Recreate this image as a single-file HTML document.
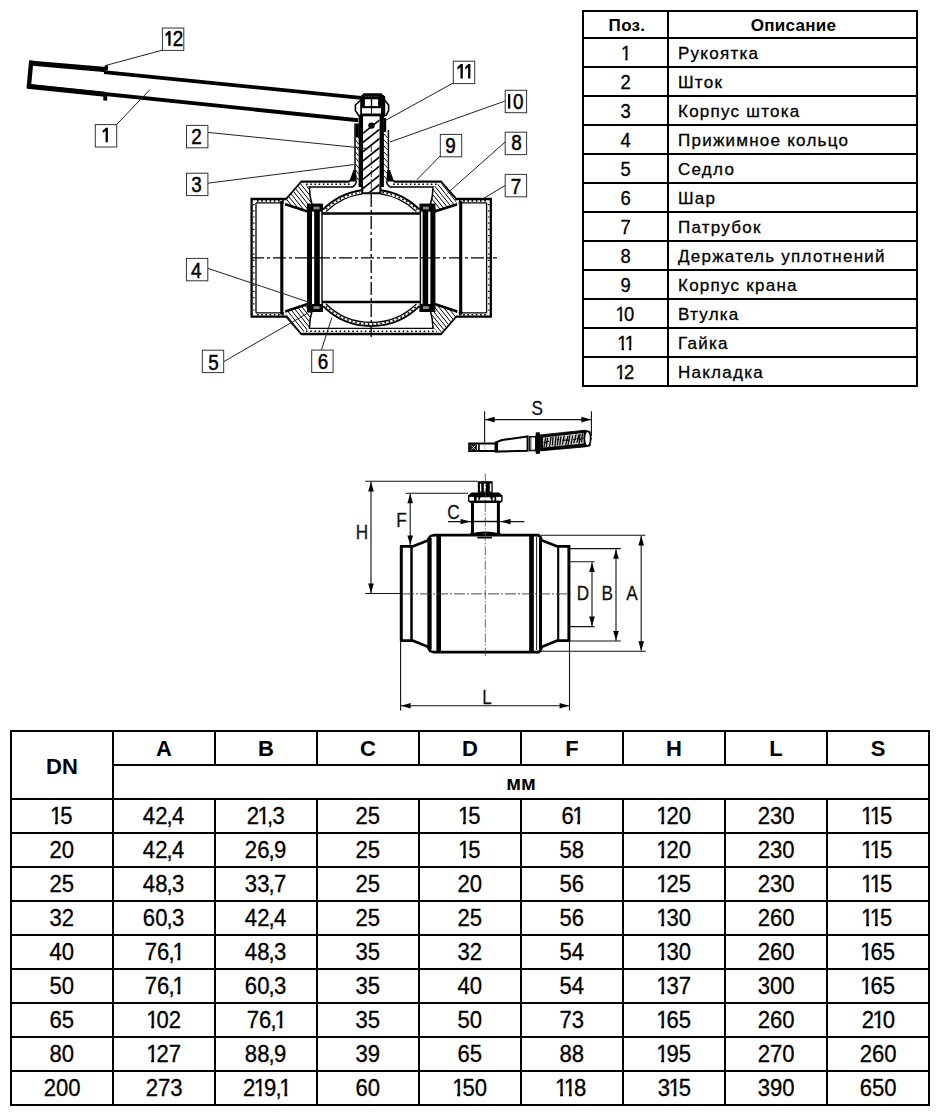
<!DOCTYPE html>
<html lang="ru"><head><meta charset="utf-8"><title>Ball valve</title>
<style>
html,body{margin:0;padding:0;background:#fff;}
body{width:940px;height:1119px;position:relative;overflow:hidden;font-family:"Liberation Sans",sans-serif;color:#000;}
svg.draw{position:absolute;left:0;top:0;}
table{border-collapse:separate;border-spacing:0;position:absolute;table-layout:fixed;}
td,th{padding:0;margin:0;box-sizing:border-box;border-right:2px solid #000;border-bottom:2px solid #000;overflow:hidden;white-space:nowrap;}
.t1{left:582px;top:10px;width:336px;border-left:2px solid #000;border-top:2px solid #000;}
.t1 th{height:27px;font-weight:bold;font-size:17px;text-align:center;letter-spacing:0.3px;padding-top:3px;}
.t1 td{height:29px;font-size:17px;letter-spacing:1.25px;padding-top:2px;-webkit-text-stroke:0.3px #000;}
.t1 .c1{width:85px;text-align:center;}
.t1 th.c1{padding-left:3px;}
.t1 th.c2{padding-left:2px;}
.t1 td.c1{font-size:20px;letter-spacing:0;padding-top:1px;}
.t1 td.c1.two{letter-spacing:-0.6px;}
.t1 td.c1 span{display:inline-block;transform:scaleX(.92);}
.t1 td.c2{padding-left:9px;}
.t2{left:10px;top:730px;width:920px;border-left:2px solid #000;border-top:2px solid #000;}
.t2 th{height:34px;font-weight:bold;font-size:22px;text-align:center;padding-top:2px;}
.t2 th.dn{padding-top:3px;}
.t2 td{height:34px;font-size:23px;text-align:center;-webkit-text-stroke:0.3px #000;}
.t2 td span{display:inline-block;transform:scaleX(.96);}
.t2 .dn{width:102px;}
.t2 .mm{font-size:20px;}
i.o{font-style:normal;display:inline-block;line-height:1;height:1em;width:0.556em;margin:0 -0.09em 0 -0.07em;letter-spacing:0;clip-path:polygon(0 0,100% 0,100% 0.745em,0.36em 0.745em,0.36em 100%,0.23em 100%,0.23em 0.745em,0 0.745em);}
i.k{font-style:normal;margin:0 -0.03em 0 -0.04em;}
</style></head>
<body>
<svg class="draw" width="940" height="1119" viewBox="0 0 940 1119">
<g id="d1" fill="none" stroke="#000" stroke-linejoin="miter">
<path d="M29.5,63 L106.5,69.7" stroke-width="5.2"/>
<path d="M104,72.1 L361,97.9" stroke-width="3.6"/>
<path d="M27.5,86 L358,120.2" stroke-width="3.9"/>
<path d="M27.5,86.3 L105,94.3" stroke-width="5"/>
<path d="M31.3,60.6 L28.7,88.4" stroke-width="4.4"/>
<rect x="103.3" y="95" width="3.9" height="5.6" fill="#000" stroke="none"/>
<rect x="104.8" y="65.2" width="3.2" height="5" fill="#000" stroke="none"/>
<path d="M360.4,100.5 L355.4,105 L355.4,110.6 L358.6,115.5 L386,115.5 L388.6,110.6 L388.6,105 L385,100.5 Z" fill="#fff" stroke-width="1.6"/>
<path d="M363.6,93.3 L381.2,93.3 L385.2,96.6 L385.2,116.5 L360.2,116.5 L360.2,96.6 Z" fill="#000" stroke="none"/>
<rect x="364.9" y="99.3" width="5.9" height="6.8" fill="#fff" stroke="none"/>
<rect x="372.2" y="99.3" width="5.9" height="6.8" fill="#fff" stroke="none"/>
<rect x="362" y="108.2" width="19" height="5.3" fill="#fff" stroke="none"/>
<path d="M371.5,106 V113.5" stroke-width="0.9"/>
<path d="M365,96.3 H378" stroke="#777" stroke-width="0.8" stroke-dasharray="1.5 1.5"/>
<path d="M355,123.5 V170 Q354.6,178.5 349,181.3" stroke-width="1.5"/>
<path d="M388.4,130 V170 Q388.8,178.5 394.4,181.3" stroke-width="1.5"/>
<path d="M353.4,170 L349.3,181.6 L356.8,181.6 L356,170 Z" fill="#000" stroke="none"/>
<path d="M390,170 L394,181.6 L386.4,181.6 L387.2,170 Z" fill="#000" stroke="none"/>
<path d="M355.6,128 L358.6,132" stroke-width="0.9"/>
<path d="M355.6,134 L358.6,138" stroke-width="0.9"/>
<path d="M355.6,140 L358.6,144" stroke-width="0.9"/>
<path d="M355.6,146 L358.6,150" stroke-width="0.9"/>
<path d="M355.6,152 L358.6,156" stroke-width="0.9"/>
<path d="M355.6,158 L358.6,162" stroke-width="0.9"/>
<path d="M355.6,164 L358.6,168" stroke-width="0.9"/>
<path d="M355.6,170 L358.6,174" stroke-width="0.9"/>
<path d="M355.6,176 L358.6,180" stroke-width="0.9"/>
<path d="M384,134 L387.6,138" stroke-width="0.9"/>
<path d="M384,140 L387.6,144" stroke-width="0.9"/>
<path d="M384,146 L387.6,150" stroke-width="0.9"/>
<path d="M384,152 L387.6,156" stroke-width="0.9"/>
<path d="M384,158 L387.6,162" stroke-width="0.9"/>
<path d="M384,164 L387.6,168" stroke-width="0.9"/>
<path d="M384,170 L387.6,174" stroke-width="0.9"/>
<path d="M384,176 L387.6,180" stroke-width="0.9"/>
<rect x="358.6" y="115" width="4.6" height="72" fill="#000" stroke="none"/>
<rect x="379.3" y="115" width="4.6" height="72" fill="#000" stroke="none"/>
<rect x="355.6" y="123.5" width="3.2" height="14" fill="#000" stroke="none"/>
<rect x="383.8" y="118" width="2.4" height="14" fill="#000" stroke="none"/>
<rect x="363.1" y="116.5" width="16.3" height="76" fill="#fff" stroke="none"/>
<clipPath id="stemclip"><rect x="363.1" y="117" width="16.3" height="75.5"/></clipPath>
<g clip-path="url(#stemclip)" stroke-width="1.7">
<path d="M362,134.0 L381,119.0"/>
<path d="M362,143.2 L381,128.2"/>
<path d="M362,152.4 L381,137.4"/>
<path d="M362,161.6 L381,146.6"/>
<path d="M362,170.8 L381,155.8"/>
<path d="M362,180.0 L381,165.0"/>
<path d="M362,189.2 L381,174.2"/>
<path d="M362,198.4 L381,183.4"/>
<path d="M362,207.6 L381,192.6"/>
<path d="M362,216.8 L381,201.8"/>
<path d="M362,226.0 L381,211.0"/>
<path d="M362,235.2 L381,220.2"/>
</g>
<path d="M371.3,145 V192" stroke-width="0.8" stroke-dasharray="7 2 1.5 2"/>
<path d="M362.2,186 V193.2 H380.4 V186" stroke-width="2"/>
<circle cx="371.5" cy="125.6" r="3.2" fill="#000" stroke="none"/>
<path d="M349.5,181.6 H301.6 L286.4,199 H251.6 V316.6 H286.4 L301.6,334 H440.8 L456,316.6 H490.8 V199 H456 L440.8,181.6 H393.8" stroke-width="2.3"/>
<path d="M256,202.8 V312.8 M256,202.8 H284 M256,312.8 H284" stroke-width="1.3"/>
<path d="M486.6,202.8 V312.8 M486.6,202.8 H458.5 M486.6,312.8 H458.5" stroke-width="1.3"/>
<path d="M308,187 H352 Q355.5,186 356.5,181" stroke-width="1.4"/>
<path d="M434.4,187 H390.6 Q387.4,186 386.4,181" stroke-width="1.4"/>
<path d="M308,328.4 H434.4" stroke-width="1.4"/>
<path d="M257,200.9 H284" stroke="#000" stroke-width="1.6" stroke-dasharray="1.6 2.6"/>
<path d="M257,314.7 H284" stroke="#000" stroke-width="1.6" stroke-dasharray="1.6 2.6"/>
<path d="M459,200.9 H486" stroke="#000" stroke-width="1.6" stroke-dasharray="1.6 2.6"/>
<path d="M459,314.7 H486" stroke="#000" stroke-width="1.6" stroke-dasharray="1.6 2.6"/>
<path d="M306,184.3 H350" stroke="#000" stroke-width="1.6" stroke-dasharray="1.6 2.6"/>
<path d="M393,184.3 H437" stroke="#000" stroke-width="1.6" stroke-dasharray="1.6 2.6"/>
<path d="M306,331.2 H437" stroke="#000" stroke-width="1.6" stroke-dasharray="1.6 2.6"/>
<path d="M253.8,204 V312" stroke="#000" stroke-width="1.4" stroke-dasharray="1.2 5"/>
<path d="M488.7,204 V312" stroke="#000" stroke-width="1.4" stroke-dasharray="1.2 5"/>
<path d="M281.8,201 V314.6" stroke-width="3.1"/>
<path d="M460.7,201 V314.6" stroke-width="3.1"/>
<clipPath id="wc0"><path d="M301.6,182.6 L309.4,187.2 L309.9,196.0 L311.6,204.3 L307.8,211.6 L285.2,204.2 L287.0,199.4 Z"/></clipPath>
<path d="M301.6,182.6 L309.4,187.2 L309.9,196.0 L311.6,204.3 L307.8,211.6 L285.2,204.2 L287.0,199.4 Z" fill="#fff" stroke="none"/>
<g clip-path="url(#wc0)" stroke-width="1">
<path d="M260.0,182.6 L283.2,211.6"/>
<path d="M264.4,182.6 L287.6,211.6"/>
<path d="M268.8,182.6 L292.0,211.6"/>
<path d="M273.2,182.6 L296.4,211.6"/>
<path d="M277.6,182.6 L300.8,211.6"/>
<path d="M282.0,182.6 L305.2,211.6"/>
<path d="M286.4,182.6 L309.6,211.6"/>
<path d="M290.8,182.6 L314.0,211.6"/>
<path d="M295.2,182.6 L318.4,211.6"/>
<path d="M299.6,182.6 L322.8,211.6"/>
<path d="M304.0,182.6 L327.2,211.6"/>
<path d="M308.4,182.6 L331.6,211.6"/>
<path d="M312.8,182.6 L336.0,211.6"/>
</g>
<path d="M285.2,204.2 L307.8,211.6" stroke-width="2.6"/>
<path d="M309.4,187.2 Q309.6,197.0 312.0,204.3" stroke-width="1.5"/>
<rect x="307.0" y="203.6" width="16" height="8" fill="#000" stroke="none"/>
<rect x="313.5" y="206.6" width="6" height="2.8" fill="#8a8a8a" stroke="none"/>
<clipPath id="wc1"><path d="M440.8,182.6 L433.0,187.2 L432.5,196.0 L430.8,204.3 L434.6,211.6 L457.2,204.2 L455.4,199.4 Z"/></clipPath>
<path d="M440.8,182.6 L433.0,187.2 L432.5,196.0 L430.8,204.3 L434.6,211.6 L457.2,204.2 L455.4,199.4 Z" fill="#fff" stroke="none"/>
<g clip-path="url(#wc1)" stroke-width="1">
<path d="M405.6,182.6 L428.8,211.6"/>
<path d="M410.0,182.6 L433.2,211.6"/>
<path d="M414.4,182.6 L437.6,211.6"/>
<path d="M418.8,182.6 L442.0,211.6"/>
<path d="M423.2,182.6 L446.4,211.6"/>
<path d="M427.6,182.6 L450.8,211.6"/>
<path d="M432.0,182.6 L455.2,211.6"/>
<path d="M436.4,182.6 L459.6,211.6"/>
<path d="M440.8,182.6 L464.0,211.6"/>
<path d="M445.2,182.6 L468.4,211.6"/>
<path d="M449.6,182.6 L472.8,211.6"/>
<path d="M454.0,182.6 L477.2,211.6"/>
<path d="M458.4,182.6 L481.6,211.6"/>
</g>
<path d="M457.2,204.2 L434.6,211.6" stroke-width="2.6"/>
<path d="M433.0,187.2 Q432.8,197.0 430.4,204.3" stroke-width="1.5"/>
<rect x="419.4" y="203.6" width="16" height="8" fill="#000" stroke="none"/>
<rect x="422.9" y="206.6" width="6" height="2.8" fill="#8a8a8a" stroke="none"/>
<clipPath id="wc2"><path d="M301.6,333.0 L309.4,328.4 L309.9,319.6 L311.6,311.3 L307.8,304.0 L285.2,311.4 L287.0,316.2 Z"/></clipPath>
<path d="M301.6,333.0 L309.4,328.4 L309.9,319.6 L311.6,311.3 L307.8,304.0 L285.2,311.4 L287.0,316.2 Z" fill="#fff" stroke="none"/>
<g clip-path="url(#wc2)" stroke-width="1">
<path d="M260.0,304.0 L283.2,333.0"/>
<path d="M264.4,304.0 L287.6,333.0"/>
<path d="M268.8,304.0 L292.0,333.0"/>
<path d="M273.2,304.0 L296.4,333.0"/>
<path d="M277.6,304.0 L300.8,333.0"/>
<path d="M282.0,304.0 L305.2,333.0"/>
<path d="M286.4,304.0 L309.6,333.0"/>
<path d="M290.8,304.0 L314.0,333.0"/>
<path d="M295.2,304.0 L318.4,333.0"/>
<path d="M299.6,304.0 L322.8,333.0"/>
<path d="M304.0,304.0 L327.2,333.0"/>
<path d="M308.4,304.0 L331.6,333.0"/>
<path d="M312.8,304.0 L336.0,333.0"/>
</g>
<path d="M285.2,311.4 L307.8,304.0" stroke-width="2.6"/>
<path d="M309.4,328.4 Q309.6,318.6 312.0,311.3" stroke-width="1.5"/>
<rect x="307.0" y="304.0" width="16" height="8" fill="#000" stroke="none"/>
<rect x="313.5" y="306.2" width="6" height="2.8" fill="#8a8a8a" stroke="none"/>
<clipPath id="wc3"><path d="M440.8,333.0 L433.0,328.4 L432.5,319.6 L430.8,311.3 L434.6,304.0 L457.2,311.4 L455.4,316.2 Z"/></clipPath>
<path d="M440.8,333.0 L433.0,328.4 L432.5,319.6 L430.8,311.3 L434.6,304.0 L457.2,311.4 L455.4,316.2 Z" fill="#fff" stroke="none"/>
<g clip-path="url(#wc3)" stroke-width="1">
<path d="M405.6,304.0 L428.8,333.0"/>
<path d="M410.0,304.0 L433.2,333.0"/>
<path d="M414.4,304.0 L437.6,333.0"/>
<path d="M418.8,304.0 L442.0,333.0"/>
<path d="M423.2,304.0 L446.4,333.0"/>
<path d="M427.6,304.0 L450.8,333.0"/>
<path d="M432.0,304.0 L455.2,333.0"/>
<path d="M436.4,304.0 L459.6,333.0"/>
<path d="M440.8,304.0 L464.0,333.0"/>
<path d="M445.2,304.0 L468.4,333.0"/>
<path d="M449.6,304.0 L472.8,333.0"/>
<path d="M454.0,304.0 L477.2,333.0"/>
<path d="M458.4,304.0 L481.6,333.0"/>
</g>
<path d="M457.2,311.4 L434.6,304.0" stroke-width="2.6"/>
<path d="M433.0,328.4 Q432.8,318.6 430.4,311.3" stroke-width="1.5"/>
<rect x="419.4" y="304.0" width="16" height="8" fill="#000" stroke="none"/>
<rect x="422.9" y="306.2" width="6" height="2.8" fill="#8a8a8a" stroke="none"/>
<rect x="307.0" y="211" width="5" height="93.6" fill="#000" stroke="none"/>
<rect x="314.2" y="211" width="5.6" height="93.6" fill="#000" stroke="none"/>
<path d="M322.0,211 V304.6" stroke-width="1.4"/>
<rect x="430.4" y="211" width="5" height="93.6" fill="#000" stroke="none"/>
<rect x="422.6" y="211" width="5.6" height="93.6" fill="#000" stroke="none"/>
<path d="M420.4,211 V304.6" stroke-width="1.4"/>
<path d="M322,213.5 H420.4 M322,302 H420.4" stroke-width="2.7"/>
<path d="M323.0,209.4 A68.3,68.3 0 0 1 361.5,190.2" stroke-width="1.9" />
<path d="M381.0,190.2 A68.3,68.3 0 0 1 419.4,209.4" stroke-width="1.9" />
<path d="M326.0,211.6 A64.6,64.6 0 0 1 362.0,193.9" stroke-width="1.3" />
<path d="M380.4,193.9 A64.6,64.6 0 0 1 416.4,211.6" stroke-width="1.3" />
<path d="M326.0,209.2 A66.4,66.4 0 0 1 360.0,192.4" stroke-width="1.6" stroke-dasharray="1.6 2.6"/>
<path d="M382.4,192.4 A66.4,66.4 0 0 1 417.0,209.7" stroke-width="1.6" stroke-dasharray="1.6 2.6"/>
<path d="M323.0,306.2 A68.3,68.3 0 0 0 419.4,306.2" stroke-width="1.9" />
<path d="M326.0,304.0 A64.6,64.6 0 0 0 416.4,304.0" stroke-width="1.3" />
<path d="M326.0,306.4 A66.4,66.4 0 0 0 417.0,305.9" stroke-width="1.6" stroke-dasharray="1.6 2.6"/>
<path d="M251,257.8 H497" stroke-width="1.3" stroke-dasharray="13 3 3 3"/>
<path d="M371.2,194 V337" stroke-width="1.3" stroke-dasharray="13 3 3 3"/>
</g>
<g id="lbl" fill="none" stroke="#222" stroke-width="1">
<path d="M163,50 L106,65.4"/>
<path d="M116.4,124.8 L150,89.5"/>
<path d="M207.9,132.4 L368,148.6"/>
<path d="M207.9,183.2 L353.5,164.6"/>
<path d="M453.2,83 L385.2,120.6"/>
<path d="M505.6,100.8 L390,142"/>
<path d="M440.6,155.6 L417,179.6"/>
<path d="M505.6,141.6 L447.4,193.2"/>
<path d="M505.6,185.2 L483.2,198.6"/>
<path d="M207.7,268.3 L308.8,302.2"/>
<path d="M223.8,361.6 L311.8,310.8"/>
<path d="M321.4,350.1 L331.8,317.6"/>
</g>
<g id="boxes" font-family="Liberation Sans, sans-serif" font-size="21.4" fill="#000" stroke="#000" stroke-width="0.5" text-anchor="middle">
<rect x="162.4" y="28.0" width="21.4" height="22.4" fill="#fff" stroke="#333" stroke-width="1"/>
<path d="M170.60,31.10 V45.70 H168.30 V34.50 L165.50,36.50 V34.00 L168.60,31.10 Z" fill="#000" stroke="none"/>
<text transform="translate(178.0,45.7) scale(0.88,1)">2</text>
<rect x="95.3" y="124.6" width="21.4" height="22.4" fill="#fff" stroke="#333" stroke-width="1"/>
<path d="M107.90,127.70 V142.30 H105.60 V131.10 L102.70,133.10 V130.60 L105.90,127.70 Z" fill="#000" stroke="none"/>
<rect x="186.5" y="125.4" width="21.4" height="22.4" fill="#fff" stroke="#333" stroke-width="1"/>
<text transform="translate(196.6,144.2) scale(0.88,1)">2</text>
<rect x="186.5" y="173.2" width="21.4" height="22.4" fill="#fff" stroke="#333" stroke-width="1"/>
<text transform="translate(196.6,192.2) scale(0.88,1)">3</text>
<rect x="453.3" y="61.2" width="21.4" height="22.4" fill="#fff" stroke="#333" stroke-width="1"/>
<path d="M462.80,64.00 V78.60 H460.50 V67.40 L457.40,69.40 V66.90 L460.80,64.00 Z" fill="#000" stroke="none"/>
<path d="M470.40,64.00 V78.60 H468.10 V67.40 L465.20,69.40 V66.90 L468.40,64.00 Z" fill="#000" stroke="none"/>
<rect x="505.2" y="90.3" width="21.4" height="22.4" fill="#fff" stroke="#333" stroke-width="1"/>
<rect x="508.00" y="94.00" width="2.3" height="14.6" fill="#000" stroke="none"/>
<text transform="translate(518.2,108.6) scale(0.88,1)">0</text>
<rect x="440.3" y="134.4" width="21.4" height="22.4" fill="#fff" stroke="#333" stroke-width="1"/>
<text transform="translate(450.4,153.0) scale(0.88,1)">9</text>
<rect x="505.2" y="132.2" width="21.4" height="22.4" fill="#fff" stroke="#333" stroke-width="1"/>
<text transform="translate(516.6,150.3) scale(0.88,1)">8</text>
<rect x="505.2" y="174.4" width="21.4" height="22.4" fill="#fff" stroke="#333" stroke-width="1"/>
<text transform="translate(516.1,193.6) scale(0.88,1)">7</text>
<rect x="186.4" y="258.4" width="21.4" height="22.4" fill="#fff" stroke="#333" stroke-width="1"/>
<text transform="translate(196.3,277.9) scale(0.88,1)">4</text>
<rect x="202.3" y="350.2" width="21.4" height="22.4" fill="#fff" stroke="#333" stroke-width="1"/>
<text transform="translate(213.5,369.5) scale(0.88,1)">5</text>
<rect x="311.7" y="350.1" width="21.4" height="22.4" fill="#fff" stroke="#333" stroke-width="1"/>
<text transform="translate(322.9,369.2) scale(0.88,1)">6</text>
</g>
<g id="d2" fill="none" stroke="#000">
<path d="M433,535.2 H539.5 M433,652.1 H539.5" stroke-width="2.7"/>
<path d="M429.5,538 V649.4" stroke-width="4.3"/>
<path d="M438.7,536 V651.5" stroke-width="4.6"/>
<path d="M531.5,536 V651.5" stroke-width="4.7"/>
<path d="M540.5,538 V649.4" stroke-width="3"/>
<path d="M536.6,537 V650" stroke-width="0.9"/>
<path d="M428.3,541 Q428.6,535.4 434,535.2 M428.3,646.4 Q428.6,652 434,652.1" stroke-width="2.4"/>
<path d="M541.6,541 Q541.4,535.4 537,535.2 M541.6,646.4 Q541.4,652 537,652.1" stroke-width="2.4"/>
<path d="M401.3,545.6 V641.4" stroke-width="3"/>
<path d="M411.5,546 V641" stroke-width="2.5"/>
<path d="M400,546.4 H412.5 L428.5,540.2 M400,640.6 H412.5 L428.5,646.9" stroke-width="2.7" stroke-linejoin="round"/>
<path d="M568.9,545.6 V641.4" stroke-width="3"/>
<path d="M558.2,546 V641" stroke-width="2.1"/>
<path d="M570.2,546.4 H557.5 L541.5,540.2 M570.2,640.6 H557.5 L541.5,646.9" stroke-width="2.7" stroke-linejoin="round"/>
<rect x="477.8" y="481.2" width="14.9" height="11.6" fill="#000" stroke="none"/>
<rect x="480" y="483.6" width="1.3" height="8" fill="#fff" stroke="none"/>
<rect x="483.8" y="483.6" width="2.1" height="8" fill="#fff" stroke="none"/>
<rect x="489.8" y="483.6" width="1.6" height="8" fill="#fff" stroke="none"/>
<path d="M471.5,492.6 H499 L502.6,495.6 V501.3 L500.6,503 H470 L468,501.3 V495.6 Z" fill="#000" stroke="none"/>
<rect x="469.4" y="496.9" width="4.6" height="3.7" fill="#fff" stroke="none"/>
<rect x="476.6" y="497.4" width="1.7" height="3.2" fill="#fff" stroke="none"/>
<path d="M479.2,500.6 L480.6,497.2 H490 L491.4,500.6 Z" fill="#fff" stroke="none"/>
<rect x="492.7" y="497.4" width="1.7" height="3.2" fill="#fff" stroke="none"/>
<rect x="496.2" y="496.9" width="5" height="3.7" fill="#fff" stroke="none"/>
<path d="M472.5,502.6 V533.6 M498.4,502.6 V533.6" stroke-width="3"/>
<path d="M474,521.5 H497" stroke-width="1.4"/>
<path d="M471,534.6 Q485.2,530.8 499.8,534.6" stroke-width="2.2"/>
<path d="M469.8,534.8 L472,531.5 V534.8 Z M500.8,534.8 L498.8,531.5 V534.8 Z" fill="#000" stroke-width="1"/>
<rect x="477.3" y="536.8" width="14.6" height="1.7" fill="#000" stroke="none"/>
<path d="M485.3,473.8 V656" stroke="#444" stroke-width="0.8" stroke-dasharray="9 2 1.5 2"/>
<path d="M403,593.9 H573" stroke="#333" stroke-width="0.9" stroke-dasharray="11 2 2 2"/>
<g stroke="#111" stroke-width="1.1">
<path d="M365.3,481.3 H477.8 M365.3,593.5 H400 M371,482 V593"/>
<path d="M405.5,493.2 H468 M410.2,494 V545"/>
<path d="M448,521.6 H471 M500,521.6 H524.4"/>
<path d="M541,535.2 H645.4 M541,651.2 H645.8 M641.2,536 V650.6"/>
<path d="M570,548.6 H620.8 M570,641 H620.8 M616,549.4 V640.4"/>
<path d="M570,561.8 H594.6 M570,626.6 H594.6 M592,562.6 V626"/>
<path d="M400.6,642 V710.6 M569.5,642 V710.6 M401,705.7 H569"/>
<path d="M484.6,411.2 V442.4 M591.4,411.2 V436 M485,419.6 H591"/>
</g>
<path d="M371.0,481.8 L368.2,491.4 L373.8,491.4 Z" fill="#000" stroke="none"/>
<path d="M371.0,593.2 L368.2,583.6 L373.8,583.6 Z" fill="#000" stroke="none"/>
<path d="M410.2,493.7 L407.4,503.3 L413.0,503.3 Z" fill="#000" stroke="none"/>
<path d="M410.2,545.0 L407.4,535.4 L413.0,535.4 Z" fill="#000" stroke="none"/>
<path d="M470.6,521.6 L460.6,518.9 L460.6,524.3 Z" fill="#000" stroke="none"/>
<path d="M500.6,521.6 L510.6,518.9 L510.6,524.3 Z" fill="#000" stroke="none"/>
<path d="M641.2,535.8 L638.4,545.4 L644.0,545.4 Z" fill="#000" stroke="none"/>
<path d="M641.2,650.8 L638.4,641.2 L644.0,641.2 Z" fill="#000" stroke="none"/>
<path d="M616.0,549.2 L613.2,558.8 L618.8,558.8 Z" fill="#000" stroke="none"/>
<path d="M616.0,640.6 L613.2,631.0 L618.8,631.0 Z" fill="#000" stroke="none"/>
<path d="M592.0,562.4 L589.2,572.0 L594.8,572.0 Z" fill="#000" stroke="none"/>
<path d="M592.0,626.2 L589.2,616.6 L594.8,616.6 Z" fill="#000" stroke="none"/>
<path d="M401.0,705.7 L410.6,702.9 L410.6,708.5 Z" fill="#000" stroke="none"/>
<path d="M569.2,705.7 L559.6,702.9 L559.6,708.5 Z" fill="#000" stroke="none"/>
<path d="M485.0,419.6 L494.6,416.8 L494.6,422.4 Z" fill="#000" stroke="none"/>
<path d="M591.0,419.6 L581.4,416.8 L581.4,422.4 Z" fill="#000" stroke="none"/>
<path d="M469.2,443.4 H495.7 V451.1 H469.2 Z" fill="#fff" stroke-width="2"/>
<rect x="469.6" y="444" width="7.4" height="6.6" fill="#222" stroke="none"/>
<path d="M471.5,445.5 L475.5,449.5 M475.5,445.5 L471.5,449.5" stroke="#ddd" stroke-width="0.8"/>
<path d="M479,443.4 V451.1" stroke-width="1.6"/>
<path d="M484.8,445.5 V449.5" stroke="#666" stroke-width="0.8" stroke-dasharray="1.2 1"/>
<path d="M495.7,442.4 L502,440 L527.6,436.4 V450.8 L495.7,451.6 Z" fill="#fff" stroke-width="2"/>
<path d="M496.8,442 V451.6" stroke-width="2.6"/>
<path d="M529.8,436.8 H535.8 V450.6 H529.8 Z" fill="#fff" stroke-width="1.5"/>
<path d="M531.6,437 V450.4" stroke="#999" stroke-width="0.8"/>
<rect x="535.6" y="432.3" width="4.4" height="21.7" rx="1.4" fill="#000" stroke="none"/>
<path d="M540.2,434.9 L584.7,430.2 L590,431.4 L591.4,438.6 L590,446 L584.7,446.9 L540.2,450.9 Z" fill="#000" stroke="#000" stroke-width="0.8" stroke-linejoin="round"/>
<path d="M543,437.4 L583.6,433 V443.4 L543,447.6 Z" fill="#cfcfcf" stroke="none"/>
<clipPath id="gripc"><path d="M543,437.4 L583.6,433 V443.4 L543,447.6 Z"/></clipPath>
<g clip-path="url(#gripc)" stroke="#000" stroke-width="1.25" stroke-linecap="round">
<path d="M544.0,447.1 L545.6,437.9"/>
<path d="M544.0,442.6 h2.1"/>
<path d="M546.3,447.1 L547.6,438.0"/>
<path d="M546.3,441.3 h2.2"/>
<path d="M549.5,446.5 L551.1,437.0"/>
<path d="M552.4,444.9 L553.0,437.2"/>
<path d="M554.9,446.1 L556.0,436.5"/>
<path d="M557.3,444.9 L558.5,436.9"/>
<path d="M557.3,439.6 h1.6"/>
<path d="M559.8,445.0 L560.9,436.8"/>
<path d="M562.5,444.1 L564.2,435.9"/>
<path d="M562.5,440.2 h2.4"/>
<path d="M565.8,444.7 L567.9,436.3"/>
<path d="M565.8,440.2 h2.8"/>
<path d="M568.1,444.8 L569.8,435.6"/>
<path d="M571.0,444.1 L572.7,436.0"/>
<path d="M573.9,442.9 L576.0,434.9"/>
<path d="M573.9,439.4 h1.6"/>
<path d="M577.0,442.3 L578.9,434.9"/>
<path d="M577.0,438.3 h2.6"/>
<path d="M579.2,443.5 L580.0,434.4"/>
<path d="M579.2,439.7 h1.7"/>
<path d="M581.7,442.0 L582.4,434.0"/>
<path d="M581.7,438.2 h3.0"/>
</g>
<ellipse cx="587.5" cy="438.6" rx="2.3" ry="6.6" fill="#fff" stroke="none"/>
</g>
<g font-family="Liberation Sans, sans-serif" font-size="20" fill="#111" stroke="#111" stroke-width="0.25" text-anchor="middle">
<text transform="translate(537.2,414.6) scale(0.86,1)">S</text>
<text transform="translate(361.9,538.9) scale(0.86,1)">H</text>
<text transform="translate(401.5,527) scale(0.86,1)">F</text>
<text transform="translate(453.4,518.9) scale(0.86,1)">C</text>
<text transform="translate(583,600) scale(0.86,1)">D</text>
<text transform="translate(607.3,600) scale(0.86,1)">B</text>
<text transform="translate(631.9,600) scale(0.86,1)">A</text>
<text transform="translate(487,703.6) scale(0.86,1)">L</text>
</g>
</svg>
<table class="t1"><thead><tr><th class="c1">Поз.</th><th class="c2">Описание</th></tr></thead><tbody>
<tr><td class="c1"><span><i class="o">1</i></span></td><td class="c2">Рукоятка</td></tr>
<tr><td class="c1"><span>2</span></td><td class="c2">Шток</td></tr>
<tr><td class="c1"><span>3</span></td><td class="c2">Корпус штока</td></tr>
<tr><td class="c1"><span>4</span></td><td class="c2">Прижимное кольцо</td></tr>
<tr><td class="c1"><span>5</span></td><td class="c2">Седло</td></tr>
<tr><td class="c1"><span>6</span></td><td class="c2">Шар</td></tr>
<tr><td class="c1"><span>7</span></td><td class="c2">Патрубок</td></tr>
<tr><td class="c1"><span>8</span></td><td class="c2">Держатель уплотнений</td></tr>
<tr><td class="c1"><span>9</span></td><td class="c2">Корпус крана</td></tr>
<tr><td class="c1 two"><span><i class="o">1</i>0</span></td><td class="c2">Втулка</td></tr>
<tr><td class="c1 two"><span><i class="o">1</i><i class="o">1</i></span></td><td class="c2">Гайка</td></tr>
<tr><td class="c1 two"><span><i class="o">1</i>2</span></td><td class="c2">Накладка</td></tr>
</tbody></table>
<table class="t2"><thead><tr><th rowspan="2" class="dn">DN</th>
<th>A</th>
<th>B</th>
<th>C</th>
<th>D</th>
<th>F</th>
<th>H</th>
<th>L</th>
<th>S</th>
</tr><tr><th colspan="8" class="mm">мм</th></tr></thead><tbody>
<tr><td><span><i class="o">1</i>5</span></td><td><span>42<i class="k">,</i>4</span></td><td><span>2<i class="o">1</i><i class="k">,</i>3</span></td><td><span>25</span></td><td><span><i class="o">1</i>5</span></td><td><span>6<i class="o">1</i></span></td><td><span><i class="o">1</i>20</span></td><td><span>230</span></td><td><span><i class="o">1</i><i class="o">1</i>5</span></td></tr>
<tr><td><span>20</span></td><td><span>42<i class="k">,</i>4</span></td><td><span>26<i class="k">,</i>9</span></td><td><span>25</span></td><td><span><i class="o">1</i>5</span></td><td><span>58</span></td><td><span><i class="o">1</i>20</span></td><td><span>230</span></td><td><span><i class="o">1</i><i class="o">1</i>5</span></td></tr>
<tr><td><span>25</span></td><td><span>48<i class="k">,</i>3</span></td><td><span>33<i class="k">,</i>7</span></td><td><span>25</span></td><td><span>20</span></td><td><span>56</span></td><td><span><i class="o">1</i>25</span></td><td><span>230</span></td><td><span><i class="o">1</i><i class="o">1</i>5</span></td></tr>
<tr><td><span>32</span></td><td><span>60<i class="k">,</i>3</span></td><td><span>42<i class="k">,</i>4</span></td><td><span>25</span></td><td><span>25</span></td><td><span>56</span></td><td><span><i class="o">1</i>30</span></td><td><span>260</span></td><td><span><i class="o">1</i><i class="o">1</i>5</span></td></tr>
<tr><td><span>40</span></td><td><span>76<i class="k">,</i><i class="o">1</i></span></td><td><span>48<i class="k">,</i>3</span></td><td><span>35</span></td><td><span>32</span></td><td><span>54</span></td><td><span><i class="o">1</i>30</span></td><td><span>260</span></td><td><span><i class="o">1</i>65</span></td></tr>
<tr><td><span>50</span></td><td><span>76<i class="k">,</i><i class="o">1</i></span></td><td><span>60<i class="k">,</i>3</span></td><td><span>35</span></td><td><span>40</span></td><td><span>54</span></td><td><span><i class="o">1</i>37</span></td><td><span>300</span></td><td><span><i class="o">1</i>65</span></td></tr>
<tr><td><span>65</span></td><td><span><i class="o">1</i>02</span></td><td><span>76<i class="k">,</i><i class="o">1</i></span></td><td><span>35</span></td><td><span>50</span></td><td><span>73</span></td><td><span><i class="o">1</i>65</span></td><td><span>260</span></td><td><span>2<i class="o">1</i>0</span></td></tr>
<tr><td><span>80</span></td><td><span><i class="o">1</i>27</span></td><td><span>88<i class="k">,</i>9</span></td><td><span>39</span></td><td><span>65</span></td><td><span>88</span></td><td><span><i class="o">1</i>95</span></td><td><span>270</span></td><td><span>260</span></td></tr>
<tr><td><span>200</span></td><td><span>273</span></td><td><span>2<i class="o">1</i>9<i class="k">,</i><i class="o">1</i></span></td><td><span>60</span></td><td><span><i class="o">1</i>50</span></td><td><span><i class="o">1</i><i class="o">1</i>8</span></td><td><span>3<i class="o">1</i>5</span></td><td><span>390</span></td><td><span>650</span></td></tr>
</tbody></table>
</body></html>
